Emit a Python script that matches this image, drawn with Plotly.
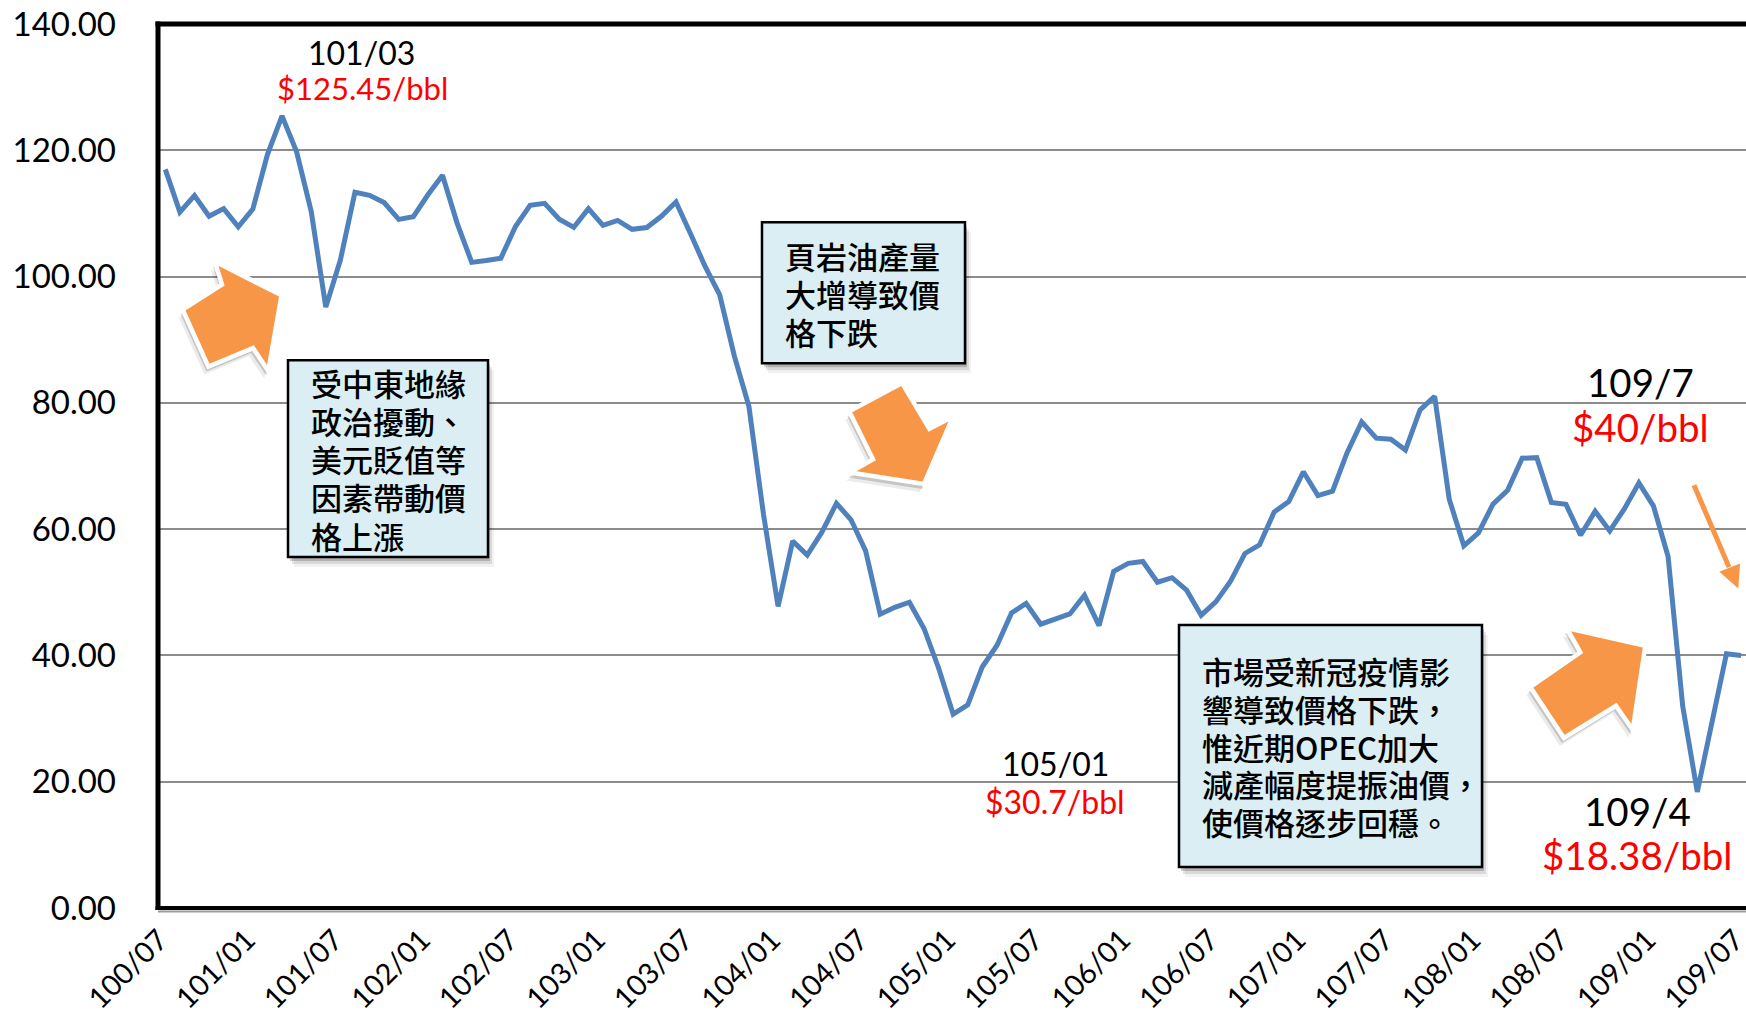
import plotly.graph_objects as go

# ---------------- data ----------------
years = list(range(100, 110))
months = [f"{y}/{m:02d}" for y in years for m in range(1, 13)]
months = [m for m in months if "100/07" <= m <= "109/07"]

prices = [
    116.97, 110.22, 112.83, 109.55, 110.77, 107.87,
    110.69, 119.33, 125.45, 119.75, 110.34, 95.16, 102.62, 113.36, 112.86, 111.71, 109.06, 109.49,
    112.96, 116.05, 108.47, 102.25, 102.56, 102.92, 107.93, 111.28, 111.60, 109.08, 107.79, 110.76,
    108.12, 108.90, 107.48, 107.76, 109.54, 111.80, 106.77, 101.61, 97.09, 87.43, 79.44, 62.34,
    47.76, 58.10, 55.89, 59.52, 64.08, 61.48, 56.56, 46.52, 47.62, 48.43, 44.27, 38.01,
    30.70, 32.18, 38.21, 41.58, 46.74, 48.25, 44.95, 45.84, 46.57, 49.52, 44.73, 53.31,
    54.58, 54.87, 51.59, 52.31, 50.33, 46.37, 48.48, 51.70, 56.15, 57.51, 62.71, 64.37,
    69.08, 65.32, 66.02, 72.11, 76.98, 74.41, 74.25, 72.53, 78.89, 81.03, 64.75, 57.36,
    59.41, 63.96, 66.14, 71.23, 71.32, 64.22, 63.92, 59.04, 62.83, 59.71, 63.21, 67.31,
    63.65, 55.66, 32.01, 18.38, 29.38, 40.27, 40.00,
]

tick_labels = ["100/07", "101/01", "101/07", "102/01", "102/07", "103/01", "103/07",
               "104/01", "104/07", "105/01", "105/07", "106/01", "106/07", "107/01",
               "107/07", "108/01", "108/07", "109/01", "109/07"]

y_ticks = [0, 20, 40, 60, 80, 100, 120, 140]

box1_lines = ["受中東地緣", "政治擾動、", "美元貶值等", "因素帶動價", "格上漲"]
box2_lines = ["頁岩油產量", "大增導致價", "格下跌"]
box3_lines = ["市場受新冠疫情影", "響導致價格下跌，", "惟近期OPEC加大", "減產幅度提振油價，", "使價格逐步回穩。"]

# ---------------- layout geometry (pixels) ----------------
W, H = 1746, 1016
L, R, T, B = 158, 0, 23.7, 108
PW, PH = W - L - R, H - T - B


def px(x):
    return (x - L) / PW


def py(y):
    return (H - B - y) / PH


def path(points):
    s = "M " + " L ".join(f"{px(x):.5f},{py(y):.5f}" for x, y in points) + " Z"
    return s


LATIN = "Lato, 'Liberation Sans', sans-serif"
CJK = "'Noto Sans CJK TC', 'Noto Sans CJK SC', sans-serif"
ORANGE = "#F79646"

fig = go.Figure()
fig.add_trace(go.Scatter(
    x=months, y=prices, mode="lines",
    line=dict(color="#4F81BD", width=5),
    hoverinfo="skip", showlegend=False,
))

shapes = []
annotations = []

# plot-area borders (left, top, bottom) + gray line under bottom axis
shapes.append(dict(type="line", xref="paper", yref="paper", x0=0, x1=1, y0=py(H - B + 3.5), y1=py(H - B + 3.5),
                   line=dict(color="#9a9a9a", width=2), layer="above"))
shapes.append(dict(type="line", xref="paper", yref="paper", x0=px(L - 2.5), x1=1, y0=0, y1=0,
                   line=dict(color="black", width=4), layer="above"))
shapes.append(dict(type="line", xref="paper", yref="paper", x0=px(L - 2.5), x1=1, y0=1, y1=1,
                   line=dict(color="black", width=5), layer="above"))
shapes.append(dict(type="line", xref="paper", yref="paper", x0=0, x1=0, y0=py(H - B + 2), y1=py(T - 2.5),
                   line=dict(color="black", width=5), layer="above"))


def add_box(x0, y0, x1, y1, lines, tx, ly):
    for dx, dy, op in [(2, 4, 0.18), (4, 7, 0.10), (6, 10, 0.05)]:
        shapes.append(dict(type="rect", xref="paper", yref="paper",
                           x0=px(x0 + dx), x1=px(x1 + dx), y0=py(y1 + dy), y1=py(y0 + dy),
                           fillcolor=f"rgba(0,0,0,{op})", line=dict(width=0), layer="above"))
    shapes.append(dict(type="rect", xref="paper", yref="paper",
                       x0=px(x0), x1=px(x1), y0=py(y1), y1=py(y0),
                       fillcolor="#DAEEF3", line=dict(color="black", width=2.5), layer="above"))
    for t, yy in zip(lines, ly):
        annotations.append(dict(text=t, xref="paper", yref="paper", x=px(tx), y=py(yy),
                                xanchor="left", yanchor="middle", showarrow=False,
                                font=dict(family=CJK, size=31, color="black", weight=500)))


add_box(288, 360, 488, 557, box1_lines, 309, [381.9, 420.2, 458.5, 496.8, 535.1])
add_box(762, 222, 965, 363, box2_lines, 783, [255, 293, 331])
add_box(1179, 625, 1482, 867, box3_lines, 1200, [670.3, 708.2, 746, 783.9, 821.8])


def add_arrow(pts, k=1.07):
    cx = sum(p[0] for p in pts) / len(pts)
    cy = sum(p[1] for p in pts) / len(pts)
    pts = [(cx + (x - cx) * k, cy + (y - cy) * k) for x, y in pts]
    for dx, dy, op in [(-2, 5, 0.16), (-4, 8, 0.08)]:
        shapes.append(dict(type="path", xref="paper", yref="paper",
                           path=path([(x + dx, y + dy) for x, y in pts]),
                           fillcolor=f"rgba(0,0,0,{op})", line=dict(width=0), layer="above"))
    shapes.append(dict(type="path", xref="paper", yref="paper", path=path(pts),
                       fillcolor=ORANGE, line=dict(color="white", width=4.5), layer="above"))


add_arrow([(216, 265), (222.7, 286.7), (186, 310), (210, 363.3), (251.7, 346), (266, 367.3), (278.3, 296.7)])
add_arrow([(853.3, 413.3), (901.7, 387.3), (926.7, 429.3), (948.3, 418.3), (921.7, 480), (854, 469.3), (875, 457.3)], 1.09)
add_arrow([(1568.3, 631.7), (1581, 654.3), (1534.3, 686.7), (1565.7, 734.3), (1614.3, 704.3), (1630, 726.7), (1641.7, 648.3)])

# thin arrow at right
shapes.append(dict(type="line", xref="paper", yref="paper",
                   x0=px(1694), y0=py(485), x1=px(1729), y1=py(567),
                   line=dict(color=ORANGE, width=5), layer="above"))
shapes.append(dict(type="path", xref="paper", yref="paper",
                   path=path([(1719.3, 571.7), (1740, 563.3), (1738.3, 588.3)]),
                   fillcolor=ORANGE, line=dict(width=0), layer="above"))


def label(text, x, y, size, color):
    annotations.append(dict(text=text, xref="paper", yref="paper", x=px(x), y=py(y),
                            xanchor="center", yanchor="middle", showarrow=False,
                            font=dict(family=LATIN, size=size, color=color)))


label("101/03", 361, 52.5, 32, "black")
label("$125.45/bbl", 362, 88, 31, "#FF0000")
label("105/01", 1055, 763, 32, "black")
label("$30.7/bbl", 1055, 801, 32, "#FF0000")
label("109/7", 1640, 382, 38.5, "black")
label("$40/bbl", 1640, 427, 38.5, "#FF0000")
label("109/4", 1637, 811, 38.5, "black")
label("$18.38/bbl", 1637, 855, 38.5, "#FF0000")

fig.update_layout(
    width=W, height=H,
    margin=dict(l=L, r=R, t=T, b=B, pad=0),
    paper_bgcolor="white", plot_bgcolor="white",
    showlegend=False,
    shapes=shapes, annotations=annotations,
    xaxis=dict(
        type="category", range=[-0.5, 108.34], automargin=False,
        tickmode="array", tickvals=tick_labels, ticktext=tick_labels,
        tickangle=-45, tickfont=dict(family=LATIN, size=29, color="black"),
        showgrid=False, zeroline=False, showline=False,
        ticks="", ticklabelstandoff=8, ticklabelshift=-6,
    ),
    yaxis=dict(
        range=[0, 140], automargin=False, tickmode="array", tickvals=y_ticks,
        ticktext=[f"{v:.2f}" for v in y_ticks],
        tickfont=dict(family=LATIN, size=33, color="black"),
        showgrid=True, gridcolor="#8c8c8c", gridwidth=2, zeroline=False, showline=False,
        ticks="", ticklabelstandoff=41,
    ),
)

fig.write_html(
    "out.html",
    config={"displayModeBar": False},
    post_script="document.body.style.margin='0';document.body.style.overflow='hidden';",
)
